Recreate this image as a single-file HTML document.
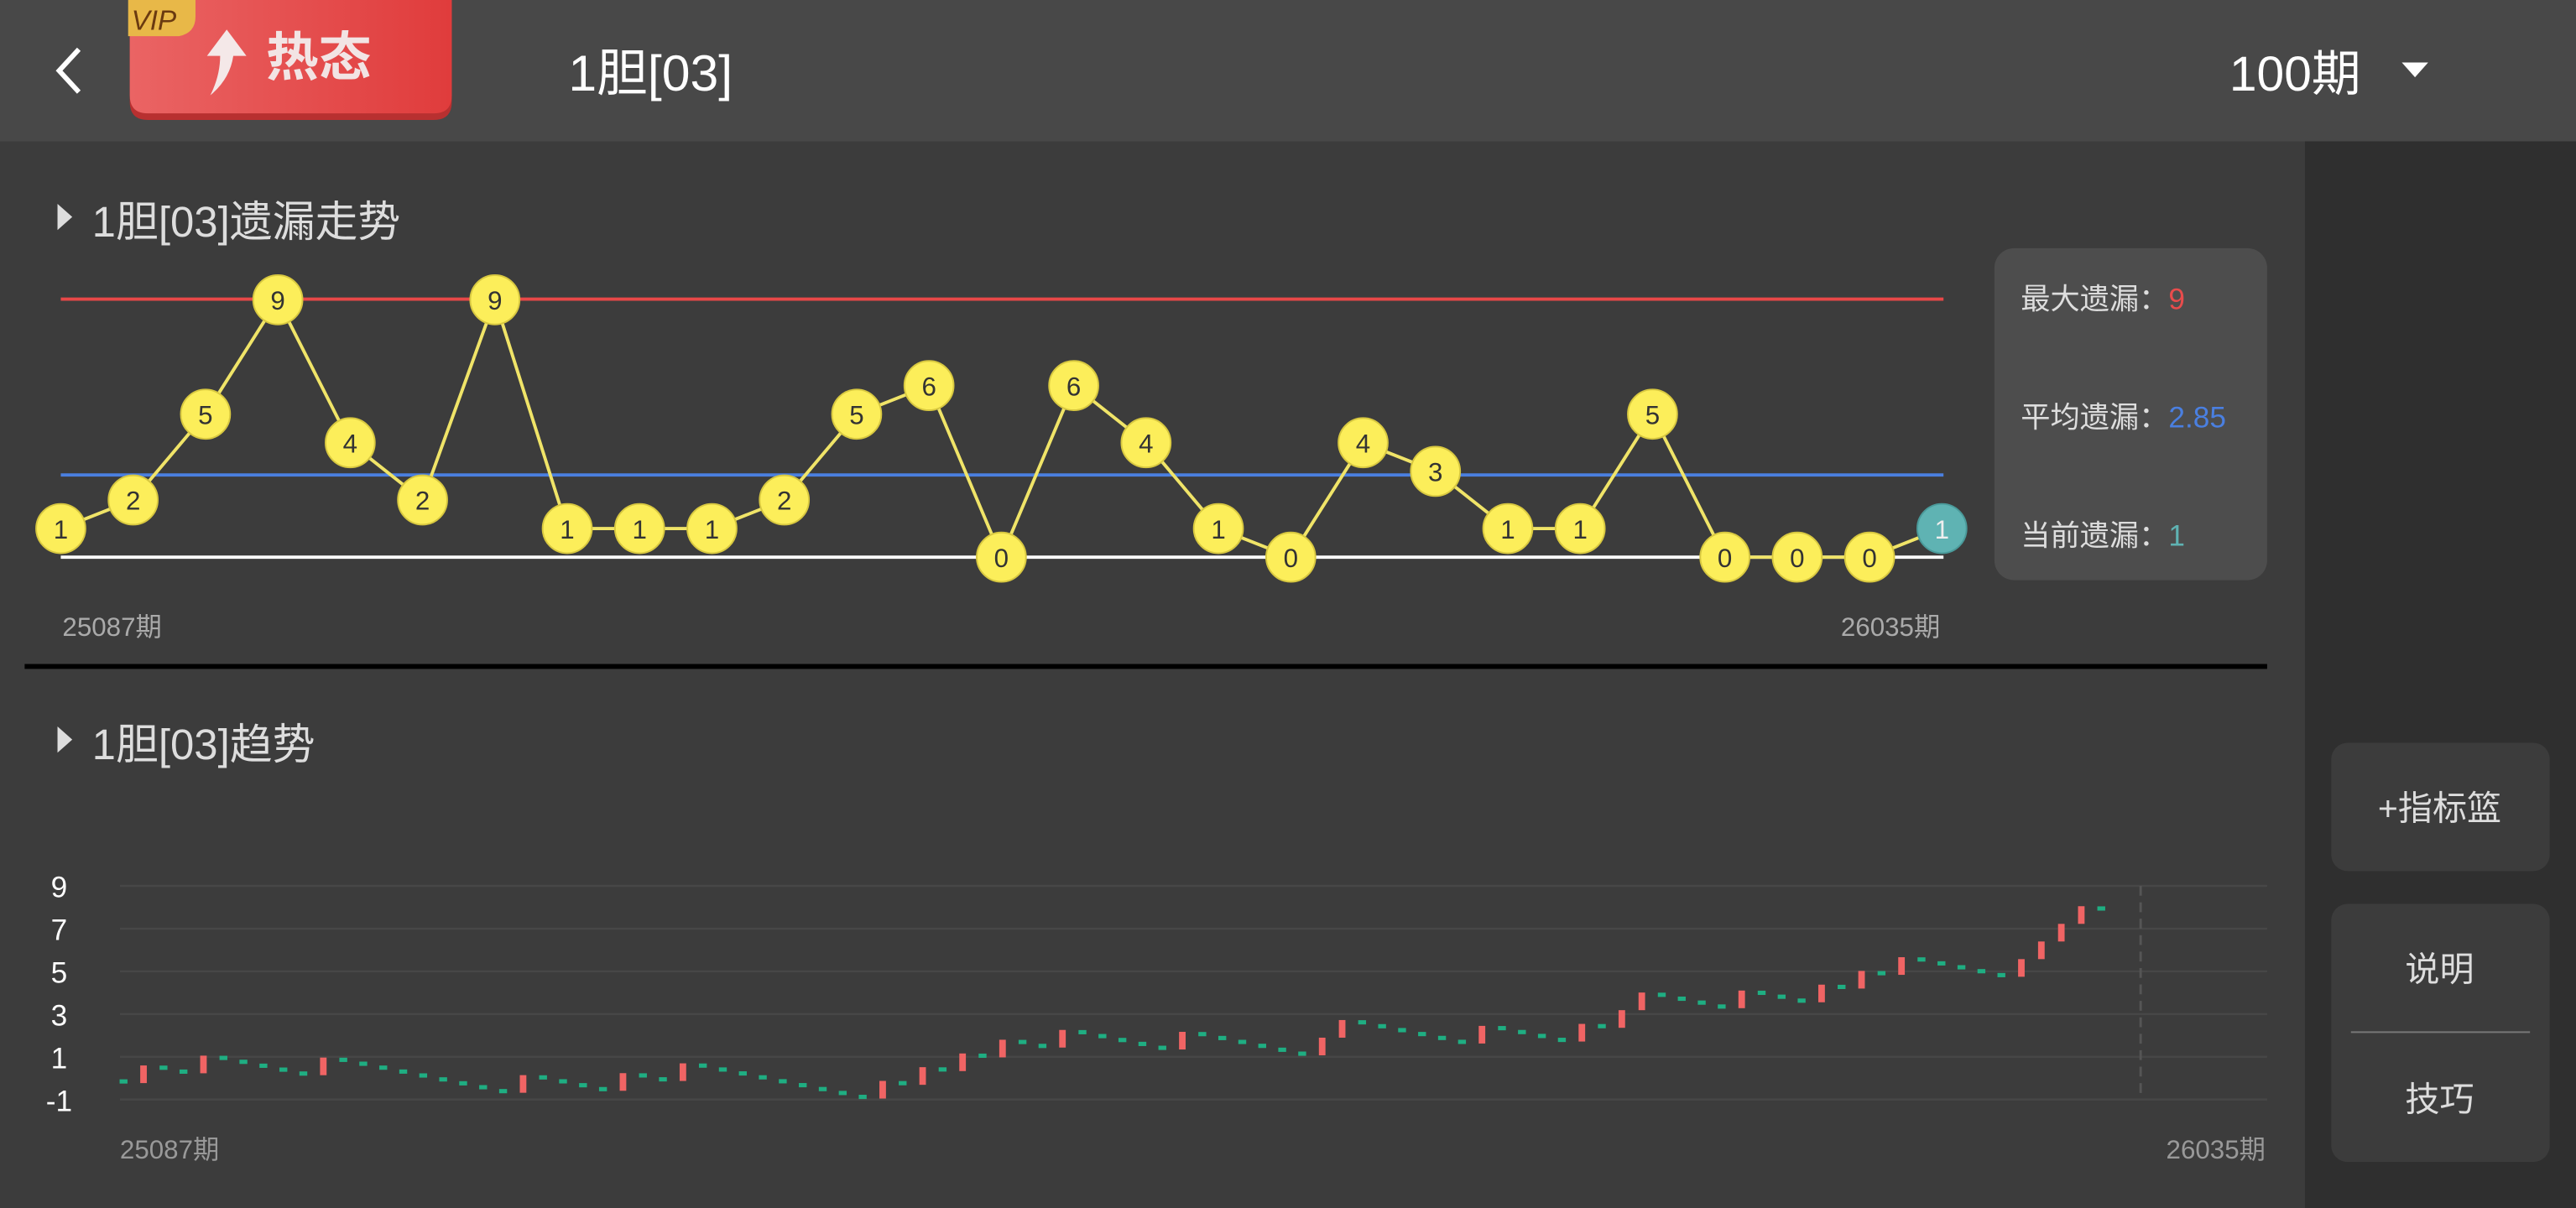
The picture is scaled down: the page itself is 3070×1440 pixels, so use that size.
<!DOCTYPE html>
<html><head><meta charset="utf-8">
<style>
html,body{margin:0;padding:0;background:#3c3c3c;}
svg{display:block;}
text{font-family:"Liberation Sans","Noto Sans CJK SC",sans-serif;}
</style></head>
<body>
<svg id="s" width="3070" height="1440" viewBox="0 0 1568 735" preserveAspectRatio="none" xmlns="http://www.w3.org/2000/svg">
<rect x="0" y="0" width="1568" height="735" fill="#3c3c3c"/>
<rect x="1403" y="86" width="165" height="649" fill="#2f2f2f"/>
<rect x="0" y="0" width="1568" height="86" fill="#484848"/>
<polyline points="48,30 36,43 48,56" fill="none" stroke="#fff" stroke-width="3"/>
<defs><linearGradient id="rg" x1="0" x2="1"><stop offset="0" stop-color="#ea6464"/><stop offset="1" stop-color="#e03c3c"/></linearGradient></defs>
<path d="M79,0 H275 V62 Q275,73 264,73 H90 Q79,73 79,62 Z" fill="#b83030"/>
<path d="M79,0 H275 V58 Q275,69 264,69 H90 Q79,69 79,58 Z" fill="url(#rg)"/>
<path d="M78,0 H119 V10 Q119,20 109,22 H78 Z" fill="#e8b848"/>
<text x="80" y="18" font-size="17" font-style="italic" fill="#6a3a10">VIP</text>
<path d="M138,18 L150,34 H142 Q140,48 128,58 Q134,46 134,34 H126 Z" fill="#f4e8e8"/>
<text x="162" y="46" font-size="32" font-weight="bold" fill="#f2e4e4">热态</text>
<text x="346" y="55" font-size="31" fill="#fff">1胆[03]</text>
<text x="1357" y="55" font-size="30" fill="#fff">100期</text>
<polygon points="1462,38 1478,38 1470,47" fill="#fff"/>
<polygon points="35,124 44,132 35,140" fill="#ddd"/>
<text x="56" y="144" font-size="26" fill="#ddd">1胆[03]遗漏走势</text>
<line x1="37" y1="182" x2="1183" y2="182" stroke="#e84848" stroke-width="2"/>
<line x1="37" y1="289" x2="1183" y2="289" stroke="#4a7fe0" stroke-width="2"/>
<line x1="37" y1="339" x2="1183" y2="339" stroke="#ffffff" stroke-width="2"/>
<g id="topg"></g>
<text x="38" y="387" font-size="16" fill="#aaa">25087期</text>
<text x="1181" y="387" font-size="16" fill="#aaa" text-anchor="end">26035期</text>
<rect x="1214" y="151" width="166" height="202" rx="12" fill="#4d4d4d"/>
<text x="1230" y="188" font-size="18" fill="#ddd">最大遗漏：<tspan fill="#e84c4c">9</tspan></text>
<text x="1230" y="260" font-size="18" fill="#ddd">平均遗漏：<tspan fill="#4a7fe0">2.85</tspan></text>
<text x="1230" y="332" font-size="18" fill="#ddd">当前遗漏：<tspan fill="#5fb3b3">1</tspan></text>
<rect x="15" y="404" width="1365" height="3" fill="#000"/>
<polygon points="35,442 44,450 35,458" fill="#ddd"/>
<text x="56" y="462" font-size="26" fill="#ddd">1胆[03]趋势</text>
<g id="grid"></g>
<line x1="1303" y1="539" x2="1303" y2="669" stroke="#555" stroke-width="1.5" stroke-dasharray="6,4"/>
<g id="bot"></g>
<text x="73" y="705" font-size="16" fill="#999">25087期</text>
<text x="1379" y="705" font-size="16" fill="#999" text-anchor="end">26035期</text>
<rect x="1419" y="452" width="133" height="78" rx="10" fill="#3c3c3c"/>
<text x="1485" y="499" font-size="21" fill="#ddd" text-anchor="middle">+指标篮</text>
<rect x="1419" y="550" width="133" height="157" rx="10" fill="#3c3c3c"/>
<text x="1485" y="597" font-size="21" fill="#ddd" text-anchor="middle">说明</text>
<line x1="1431" y1="628" x2="1540" y2="628" stroke="#777" stroke-width="1"/>
<text x="1485" y="676" font-size="21" fill="#ddd" text-anchor="middle">技巧</text>
</svg>
<script>
(function(){
var NS="http://www.w3.org/2000/svg";
function el(p,t,a,txt){var e=document.createElementNS(NS,t);for(var k in a)e.setAttribute(k,a[k]);if(txt!=null)e.textContent=txt;p.appendChild(e);return e;}
var vals=[1,2,5,9,4,2,9,1,1,1,2,5,6,0,6,4,1,0,4,3,1,1,5,0,0,0,1];
var tg=document.getElementById('topg');
var pts=vals.map(function(v,i){return [37+i*44.04,339-17.4*v];});
el(tg,'polyline',{points:pts.map(function(p){return p.join(',')}).join(' '),fill:'none',stroke:'#f0e468','stroke-width':2});
pts.forEach(function(p,i){
 var last=i==vals.length-1;
 el(tg,'circle',{cx:p[0],cy:p[1],r:15,fill:last?'#5fb3b3':'#fcee5a',stroke:last?'#4a9a9a':'#d8c840','stroke-width':1});
 el(tg,'text',{x:p[0],y:p[1]+6,'font-size':16,'text-anchor':'middle',fill:last?'#eee':'#333'},String(vals[i]));
});
var g=document.getElementById('grid');
[9,7,5,3,1,-1].forEach(function(v){
 var y=643-13*(v-1);
 el(g,'line',{x1:73,y1:y,x2:1380,y2:y,stroke:'#474747','stroke-width':1.2});
 el(g,'text',{x:36,y:y+7,'font-size':18,fill:'#fff','text-anchor':'middle'},String(v));
});
var seq="drddrdddddrdddddddddrddddrddrdddddddddrdrdrdrddrddddd"+"rddddddrrddddddrddddrdrrddddrdddrdrdrdddddrrrrd";
var b=document.getElementById('bot');
var L=658,x0=75.2,dx=12.16,drop=2.38,rise=10.73;
for(var i=0;i<seq.length;i++){
 var x=x0+i*dx;
 if(i==0){el(b,'rect',{x:x-2.4,y:L-1.3,width:4.8,height:2.6,fill:'#1fae82'});continue;}
 if(seq[i]=='d'){L+=drop;el(b,'rect',{x:x-2.4,y:L-1.3,width:4.8,height:2.6,fill:'#1fae82'});}
 else{var n=L-rise;el(b,'rect',{x:x-2,y:n+1,width:4,height:rise,fill:'#f06464'});L=n;}
}
})();
</script>
</body></html>
